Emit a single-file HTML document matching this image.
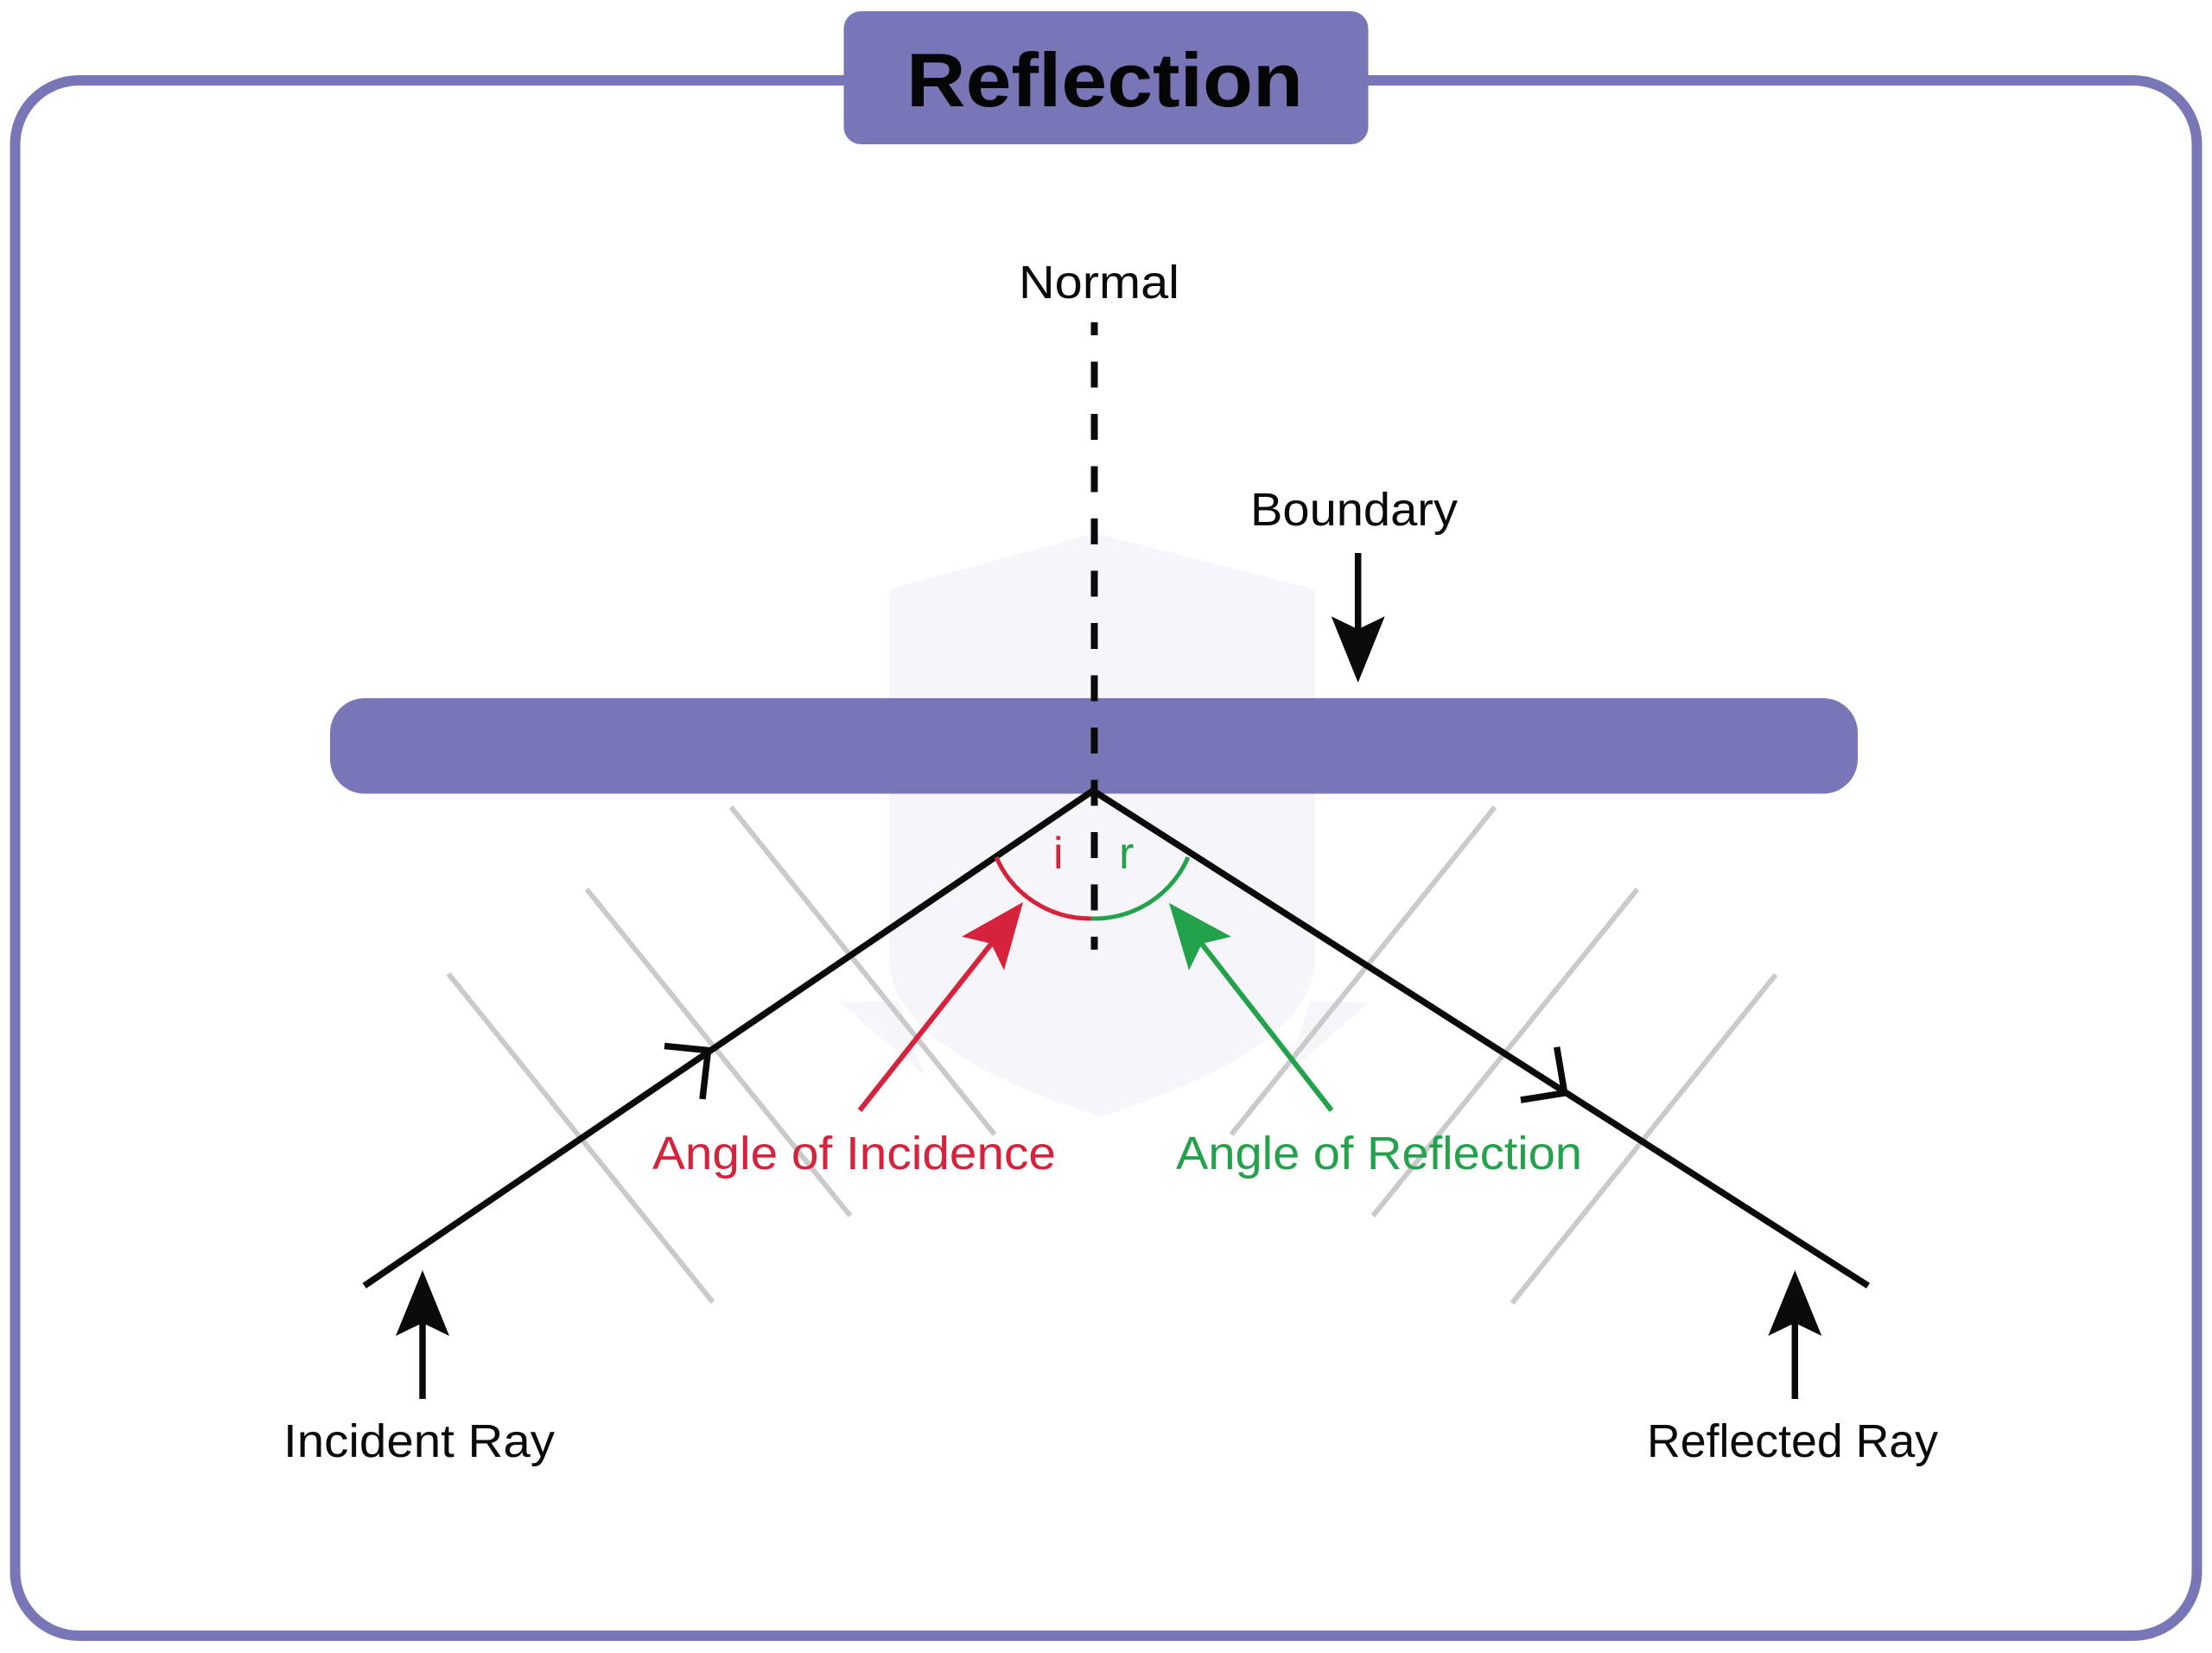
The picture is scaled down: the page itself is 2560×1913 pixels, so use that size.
<!DOCTYPE html>
<html>
<head>
<meta charset="utf-8">
<style>
  html, body { margin: 0; padding: 0; background: #ffffff; }
  body { width: 2560px; height: 1913px; overflow: hidden; }
  svg { display: block; }
  text { font-family: "Liberation Sans", sans-serif; }
</style>
</head>
<body>
<svg width="2560" height="1913" viewBox="0 0 2560 1913" xmlns="http://www.w3.org/2000/svg">
  <rect x="0" y="0" width="2560" height="1913" fill="#ffffff"/>

  <!-- outer frame -->
  <rect x="17.5" y="93" width="2525" height="1800" rx="74" ry="74" fill="none" stroke="#7976b7" stroke-width="12"/>

  <!-- title box -->
  <rect x="976.5" y="13" width="607" height="154" rx="20" ry="20" fill="#7976b7"/>
  <text x="1049" y="123" font-size="88" font-weight="bold" fill="#050505" textLength="459" lengthAdjust="spacingAndGlyphs">Reflection</text>

  <!-- faint watermark shield -->
  <g fill="#f6f6fa">
    <path d="M1029,682 L1267,617 L1522,682 L1522,1110 Q1520,1215 1273,1292 Q1031,1215 1029,1110 Z"/>
    <path d="M972,1160 L1040,1158 L1070,1245 Z"/>
    <path d="M1585,1160 L1517,1158 L1487,1245 Z"/>
  </g>

  <!-- boundary bar -->
  <rect x="382" y="808" width="1768" height="110.5" rx="40" ry="40" fill="#7976b7"/>

  <!-- grey wavefront lines -->
  <g stroke="#cacaca" stroke-width="6" fill="none">
    <line x1="519" y1="1127" x2="825" y2="1507"/>
    <line x1="679" y1="1029" x2="984" y2="1407"/>
    <line x1="846" y1="934" x2="1151" y2="1313"/>
    <line x1="1730" y1="934" x2="1425" y2="1313"/>
    <line x1="1895" y1="1029" x2="1589" y2="1407"/>
    <line x1="2055" y1="1128" x2="1750" y2="1508"/>
  </g>

  <!-- rays -->
  <g stroke="#0a0a0a" stroke-width="7.5" fill="none" stroke-linejoin="miter">
    <polyline points="421.7,1488 1265,915 2162,1488"/>
    <polyline points="769,1210.5 819.5,1215.5 813,1272"/>
    <polyline points="1801.7,1211.7 1810.7,1265 1760,1273"/>
  </g>

  <!-- normal dashed line -->
  <line x1="1266.5" y1="373" x2="1266.5" y2="1099" stroke="#0a0a0a" stroke-width="8" stroke-dasharray="30 30.5" stroke-dashoffset="15"/>

  <!-- angle arcs -->
  <path d="M1153,992 A118,118 0 0 0 1263,1063" fill="none" stroke="#d6223b" stroke-width="5"/>
  <path d="M1263,1063 A118,118 0 0 0 1375,992" fill="none" stroke="#22a24b" stroke-width="5"/>

  <!-- red arrow -->
  <line x1="995" y1="1285" x2="1149" y2="1090" stroke="#d6223b" stroke-width="6"/>
  <polygon points="1184,1044 1113,1084 1147,1092 1162,1123" fill="#d6223b"/>

  <!-- green arrow -->
  <line x1="1541" y1="1285" x2="1389" y2="1090" stroke="#22a24b" stroke-width="6"/>
  <polygon points="1353,1045 1425,1084 1391,1092 1376,1123" fill="#22a24b"/>

  <!-- boundary arrow -->
  <line x1="1571.7" y1="640" x2="1571.7" y2="732" stroke="#0a0a0a" stroke-width="7.5"/>
  <polygon points="1571.7,790 1540.7,713.3 1571.7,728.3 1602.7,713.3" fill="#0a0a0a"/>

  <!-- incident ray label arrow -->
  <line x1="489" y1="1619" x2="489" y2="1528" stroke="#0a0a0a" stroke-width="7.5"/>
  <polygon points="489,1470 458,1546 489,1531 520,1546" fill="#0a0a0a"/>

  <!-- reflected ray label arrow -->
  <line x1="2077.3" y1="1619" x2="2077.3" y2="1528" stroke="#0a0a0a" stroke-width="7.5"/>
  <polygon points="2077.3,1470 2046.3,1546 2077.3,1531 2108.3,1546" fill="#0a0a0a"/>

  <!-- labels -->
  <text x="1179" y="345" font-size="54" fill="#0a0a0a" textLength="186" lengthAdjust="spacingAndGlyphs">Normal</text>
  <text x="1447" y="608" font-size="54" fill="#0a0a0a" textLength="240" lengthAdjust="spacingAndGlyphs">Boundary</text>
  <text x="1219" y="1005" font-size="52" fill="#d6223b">i</text>
  <text x="1295" y="1005" font-size="52" fill="#22a24b">r</text>
  <text x="755" y="1353" font-size="54" fill="#d6223b" textLength="467" lengthAdjust="spacingAndGlyphs">Angle of Incidence</text>
  <text x="1361" y="1353" font-size="54" fill="#22a24b" textLength="470" lengthAdjust="spacingAndGlyphs">Angle of Reflection</text>
  <text x="328" y="1686" font-size="54" fill="#0a0a0a" textLength="314" lengthAdjust="spacingAndGlyphs">Incident Ray</text>
  <text x="1906" y="1686" font-size="54" fill="#0a0a0a" textLength="337" lengthAdjust="spacingAndGlyphs">Reflected Ray</text>
</svg>
</body>
</html>
